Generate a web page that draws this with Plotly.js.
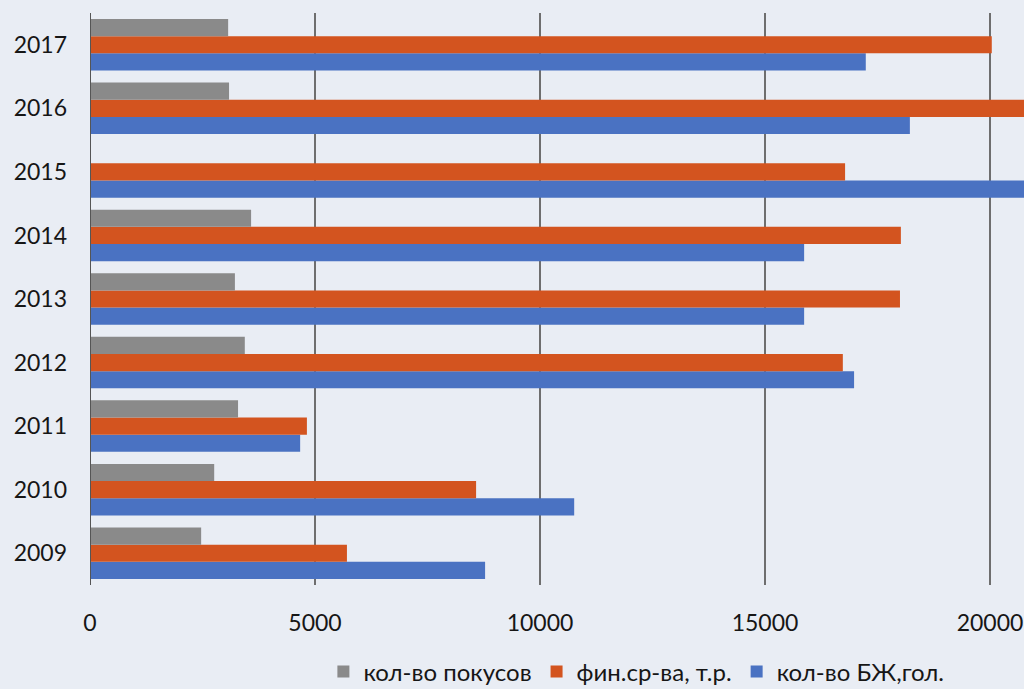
<!DOCTYPE html>
<html>
<head>
<meta charset="utf-8">
<script src="https://cdn.plot.ly/plotly-3.0.1.min.js"></script>
<style>
html,body{margin:0;padding:0;background:#e9edf4;}
#chart{width:1024px;height:689px;}
</style>
</head>
<body>
<div id="chart"></div>
<script>
var years = ['2009','2010','2011','2012','2013','2014','2015','2016','2017'];
var bites = [2470, 2760, 3290, 3440, 3220, 3580, null, 3090, 3070];        // кол-во покусов
var funds = [5710, 8580, 4820, 16730, 18000, 18020, 16780, 21200, 20040];  // фин.ср-ва, т.р.
var animals = [8780, 10760, 4670, 16980, 15870, 15870, 21200, 18220, 17240]; // кол-во БЖ,гол.
var xTicks = [0, 5000, 10000, 15000, 20000];

var traces = [
  {type:'bar', orientation:'h', name:'кол-во БЖ,гол.', y:years, x:animals,
   marker:{color:'#4a72c2'}},
  {type:'bar', orientation:'h', name:'фин.ср-ва, т.р.', y:years, x:funds,
   marker:{color:'#d3541f'}},
  {type:'bar', orientation:'h', name:'кол-во покусов', y:years, x:bites,
   marker:{color:'#8a8a8a'}}
];

var layout = {
  width:1024, height:689,
  paper_bgcolor:'#e9edf4', plot_bgcolor:'#e9edf4',
  margin:{l:90, r:0, t:13, b:104, autoexpand:false},
  barmode:'group', bargap:0.19, bargroupgap:0,
  font:{family:'Lato, "Open Sans", sans-serif', size:23, color:'#161616'},
  showlegend:true,
  legend:{orientation:'h', traceorder:'reversed', x:0.585, xanchor:'center', y:-0.152, yanchor:'middle',
          font:{size:24, color:'#161616'}, bgcolor:'rgba(0,0,0,0)', itemwidth:30},
  xaxis:{range:[0, 20756], tickvals:xTicks, ticktext:xTicks.map(String),
         showgrid:true, gridcolor:'#6e6e6e', gridwidth:1.2, zeroline:false,
         showline:false, ticks:'', ticklabelstandoff:22, fixedrange:true},
  yaxis:{type:'category', categoryorder:'array', categoryarray:years,
         showgrid:false, zeroline:false, showline:false, ticks:'', ticklabelstandoff:22},
  shapes:[{type:'line', xref:'x', yref:'paper', x0:0, x1:0, y0:0, y1:1,
           line:{color:'#555555', width:2}}]
};

Plotly.newPlot('chart', traces, layout, {staticPlot:true});
</script>
</body>
</html>
